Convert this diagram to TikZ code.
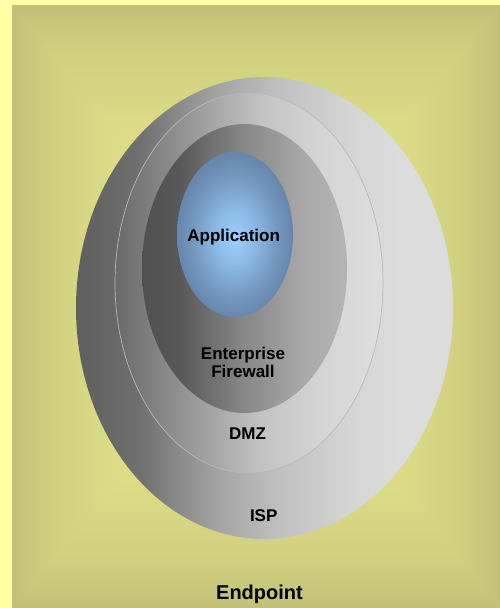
\documentclass[tikz,border=0pt]{standalone}
\usepackage{fontspec}
\setmainfont{Liberation Sans}

% background box gradient (edge -> centre)
\definecolor{bgA}{HTML}{C2C077}
\definecolor{bgB}{HTML}{C8C67A}
\definecolor{bgC}{HTML}{D0CF7E}
\definecolor{bgD}{HTML}{DCDC86}
\definecolor{bgE}{HTML}{E4E48C}
\definecolor{frame}{HTML}{FFFFA6}
\pgfdeclarehorizontalshading{bgH}{100bp}{color(0bp)=(bgA); color(25bp)=(bgA); color(28bp)=(bgB); color(33bp)=(bgC); color(46bp)=(bgD); color(75bp)=(bgE); color(100bp)=(bgE)}
\pgfdeclareverticalshading{bgV}{100bp}{color(0bp)=(bgA); color(25bp)=(bgA); color(28bp)=(bgB); color(33bp)=(bgC); color(46bp)=(bgD); color(75bp)=(bgE); color(100bp)=(bgE)}

% grey rings
\definecolor{iA}{HTML}{5E5E5E}
\definecolor{iB}{HTML}{707070}
\definecolor{iC}{HTML}{A0A0A0}
\definecolor{iD}{HTML}{C0C0C0}
\definecolor{iE}{HTML}{D4D4D4}
\definecolor{iF}{HTML}{DCDCDC}
\pgfdeclarehorizontalshading{ispshade}{100bp}{color(0bp)=(iA); color(25bp)=(iA); color(33.5bp)=(iB); color(43bp)=(iC); color(52bp)=(iD); color(61bp)=(iE); color(68bp)=(iF); color(100bp)=(iF)}
\definecolor{dA}{HTML}{6A6A6A}
\definecolor{dB}{HTML}{A4A4A4}
\definecolor{dC}{HTML}{C2C2C2}
\definecolor{dD}{HTML}{D4D4D4}
\definecolor{dE}{HTML}{DEDEDE}
\pgfdeclarehorizontalshading{dmzshade}{100bp}{color(0bp)=(dA); color(25bp)=(dA); color(43bp)=(dB); color(52bp)=(dC); color(63bp)=(dD); color(75bp)=(dE); color(100bp)=(dE)}
\definecolor{fA}{HTML}{505050}
\definecolor{fB}{HTML}{585858}
\definecolor{fC}{HTML}{858585}
\definecolor{fD}{HTML}{AAAAAA}
\definecolor{fE}{HTML}{B4B4B4}
\pgfdeclarehorizontalshading{fwshade}{100bp}{color(0bp)=(fA); color(25bp)=(fA); color(34bp)=(fB); color(49bp)=(fC); color(65bp)=(fD); color(75bp)=(fE); color(100bp)=(fE)}

% blue core
\definecolor{aA}{HTML}{9DD0FF}
\definecolor{aB}{HTML}{8CBBE8}
\definecolor{aC}{HTML}{7598C0}
\definecolor{aD}{HTML}{6686AC}
\pgfdeclareradialshading{appshade}{\pgfpoint{0bp}{-1bp}}{color(0bp)=(aA); color(8bp)=(aB); color(18bp)=(aC); color(25bp)=(aD); color(50bp)=(aD)}

\definecolor{ringline}{HTML}{B8B8B8}

\begin{document}
\begin{tikzpicture}[x=1pt, y=-1pt,
  lbl/.style={font=\bfseries\fontsize{17}{18.7}\selectfont, text=black, inner sep=0pt, anchor=base},
  biglbl/.style={lbl, font=\bfseries\fontsize{20}{22}\selectfont}]
\useasboundingbox (0,0) rectangle (500,608);

% page frame and box-gradient panel
\fill[frame] (0,0) rectangle (500,608);
\fill[bgC] (12,5) rectangle (500,608);
\coordinate (mid) at (256,306.5);
\shade[shading=bgH] (12,5) -- (mid) -- (12,608) -- cycle;
\shade[shading=bgH, shading angle=180] (500,5) -- (mid) -- (500,608) -- cycle;
\shade[shading=bgV] (12,608) -- (mid) -- (500,608) -- cycle;
\shade[shading=bgV, shading angle=180] (12,5) -- (mid) -- (500,5) -- cycle;

% nested zones
\shade[shading=ispshade] (264.5,308) ellipse [x radius=188.5pt, y radius=231pt];
\shade[shading=dmzshade, draw=ringline, line width=0.7pt] (249,283) ellipse [x radius=134pt, y radius=190pt];
\shade[shading=fwshade] (244.5,268.5) ellipse [x radius=102.5pt, y radius=144.5pt];
\shade[shading=appshade] (235,234.5) ellipse [x radius=58pt, y radius=82.5pt];

% zone names (a two-line node sits on its last baseline)
\node[lbl] (app) at (233.7,241.7) {Application};
\node[lbl, align=center] (fw) at (243,377.7) {Enterprise\\Firewall};
\node[lbl] (dmz) at (247.5,439) {DMZ};
\node[lbl] (isp) at (263.7,521.7) {ISP};
\node[biglbl] (endpoint) at (259.5,599) {Endpoint};
\end{tikzpicture}
\end{document}
